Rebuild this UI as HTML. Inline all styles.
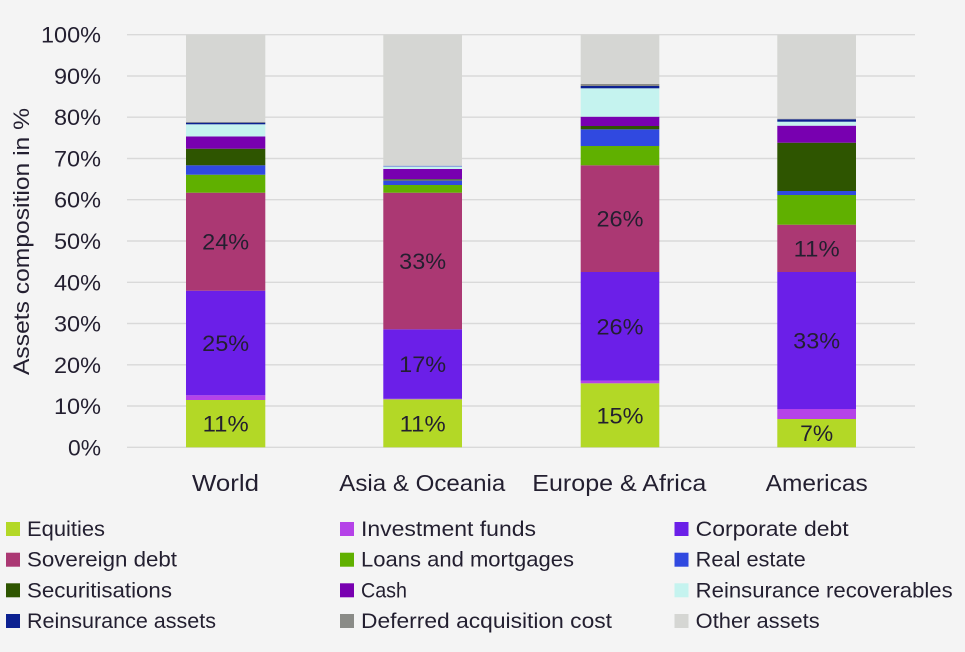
<!DOCTYPE html>
<html><head><meta charset="utf-8"><style>
html,body{margin:0;padding:0;background:#f4f4f4;}
svg{display:block;}
text{font-family:"Liberation Sans",sans-serif;fill:#231f30;}
</style></head><body>
<svg width="965" height="652" viewBox="0 0 965 652" xmlns="http://www.w3.org/2000/svg">
<rect width="965" height="652" fill="#f4f4f4"/>
<g stroke="#d9d9d9" stroke-width="1.4">
<line x1="127" x2="915" y1="34.7" y2="34.7"/>
<line x1="127" x2="915" y1="76" y2="76"/>
<line x1="127" x2="915" y1="117.2" y2="117.2"/>
<line x1="127" x2="915" y1="158.5" y2="158.5"/>
<line x1="127" x2="915" y1="199.7" y2="199.7"/>
<line x1="127" x2="915" y1="241" y2="241"/>
<line x1="127" x2="915" y1="282.3" y2="282.3"/>
<line x1="127" x2="915" y1="323.5" y2="323.5"/>
<line x1="127" x2="915" y1="364.8" y2="364.8"/>
<line x1="127" x2="915" y1="406" y2="406"/>
<line x1="127" x2="915" y1="447.3" y2="447.3"/>
</g>
<!-- World -->
<g>
<rect x="186" width="79.3" y="400" height="47.3" fill="#b3d826"/>
<rect x="186" width="79.3" y="395.3" height="4.7" fill="#b542e8"/>
<rect x="186" width="79.3" y="290.7" height="104.6" fill="#6b1fe8"/>
<rect x="186" width="79.3" y="192.7" height="98" fill="#ab3873"/>
<rect x="186" width="79.3" y="174.7" height="18" fill="#60b000"/>
<rect x="186" width="79.3" y="165.3" height="9.4" fill="#3049e0"/>
<rect x="186" width="79.3" y="148.7" height="16.6" fill="#2e5500"/>
<rect x="186" width="79.3" y="136.5" height="12.2" fill="#7800b0"/>
<rect x="186" width="79.3" y="124.3" height="12.2" fill="#c5f3ef"/>
<rect x="186" width="79.3" y="122.7" height="1.6" fill="#0c2191"/>
<rect x="186" width="79.3" y="122" height="0.7" fill="#8a8b87"/>
<rect x="186" width="79.3" y="34.7" height="87.3" fill="#d5d6d3"/>
</g>
<!-- Asia -->
<g>
<rect x="383.3" width="78.7" y="399.3" height="48" fill="#b3d826"/>
<rect x="383.3" width="78.7" y="398.8" height="0.5" fill="#b542e8"/>
<rect x="383.3" width="78.7" y="329.3" height="69.5" fill="#6b1fe8"/>
<rect x="383.3" width="78.7" y="192.7" height="136.6" fill="#ab3873"/>
<rect x="383.3" width="78.7" y="185" height="7.7" fill="#60b000"/>
<rect x="383.3" width="78.7" y="180.7" height="4.3" fill="#3049e0"/>
<rect x="383.3" width="78.7" y="179" height="1.7" fill="#5d6858"/>
<rect x="383.3" width="78.7" y="169" height="10" fill="#7800b0"/>
<rect x="383.3" width="78.7" y="166.7" height="2.3" fill="#c5f3ef"/>
<rect x="383.3" width="78.7" y="165.7" height="1" fill="#6f86d8"/>
<rect x="383.3" width="78.7" y="34.7" height="131" fill="#d5d6d3"/>
</g>
<!-- Europe -->
<g>
<rect x="580.7" width="78.6" y="383.3" height="64" fill="#b3d826"/>
<rect x="580.7" width="78.6" y="380.7" height="2.6" fill="#b542e8"/>
<rect x="580.7" width="78.6" y="272" height="108.7" fill="#6b1fe8"/>
<rect x="580.7" width="78.6" y="165.3" height="106.7" fill="#ab3873"/>
<rect x="580.7" width="78.6" y="146" height="19.3" fill="#60b000"/>
<rect x="580.7" width="78.6" y="129.3" height="16.7" fill="#3049e0"/>
<rect x="580.7" width="78.6" y="126" height="3.3" fill="#2e5500"/>
<rect x="580.7" width="78.6" y="116.7" height="9.3" fill="#7800b0"/>
<rect x="580.7" width="78.6" y="88.3" height="28.4" fill="#c5f3ef"/>
<rect x="580.7" width="78.6" y="86" height="2.3" fill="#0c2191"/>
<rect x="580.7" width="78.6" y="84" height="2" fill="#8a8b87"/>
<rect x="580.7" width="78.6" y="34.7" height="49.3" fill="#d5d6d3"/>
</g>
<!-- Americas -->
<g>
<rect x="777.3" width="78.7" y="419" height="28.3" fill="#b3d826"/>
<rect x="777.3" width="78.7" y="409" height="10" fill="#b542e8"/>
<rect x="777.3" width="78.7" y="272" height="137" fill="#6b1fe8"/>
<rect x="777.3" width="78.7" y="224.7" height="47.3" fill="#ab3873"/>
<rect x="777.3" width="78.7" y="195" height="29.7" fill="#60b000"/>
<rect x="777.3" width="78.7" y="191" height="4" fill="#3049e0"/>
<rect x="777.3" width="78.7" y="142.7" height="48.3" fill="#2e5500"/>
<rect x="777.3" width="78.7" y="125.7" height="17" fill="#7800b0"/>
<rect x="777.3" width="78.7" y="121.7" height="4" fill="#c5f3ef"/>
<rect x="777.3" width="78.7" y="119.3" height="2.4" fill="#0c2191"/>
<rect x="777.3" width="78.7" y="118.7" height="0.6" fill="#8a8b87"/>
<rect x="777.3" width="78.7" y="34.7" height="84" fill="#d5d6d3"/>
</g>
<!-- bar labels -->
<g font-size="22.5" text-anchor="middle" lengthAdjust="spacingAndGlyphs">
<text x="225.7" y="431.7" textLength="46" lengthAdjust="spacingAndGlyphs">11%</text>
<text x="225.7" y="351" textLength="47" lengthAdjust="spacingAndGlyphs">25%</text>
<text x="225.7" y="249.7" textLength="47" lengthAdjust="spacingAndGlyphs">24%</text>
<text x="422.7" y="431.3" textLength="46" lengthAdjust="spacingAndGlyphs">11%</text>
<text x="422.7" y="372" textLength="47" lengthAdjust="spacingAndGlyphs">17%</text>
<text x="422.7" y="269" textLength="47" lengthAdjust="spacingAndGlyphs">33%</text>
<text x="620" y="423.3" textLength="47" lengthAdjust="spacingAndGlyphs">15%</text>
<text x="620" y="334.3" textLength="47" lengthAdjust="spacingAndGlyphs">26%</text>
<text x="620" y="226.7" textLength="47" lengthAdjust="spacingAndGlyphs">26%</text>
<text x="816.7" y="441" textLength="33" lengthAdjust="spacingAndGlyphs">7%</text>
<text x="816.7" y="348.5" textLength="47" lengthAdjust="spacingAndGlyphs">33%</text>
<text x="816.7" y="256.3" textLength="46" lengthAdjust="spacingAndGlyphs">11%</text>
</g>
<!-- y ticks -->
<g font-size="22.5">
<text x="41" y="42.7" textLength="60" lengthAdjust="spacingAndGlyphs">100%</text>
<text x="54" y="84" textLength="47" lengthAdjust="spacingAndGlyphs">90%</text>
<text x="54" y="125.2" textLength="47" lengthAdjust="spacingAndGlyphs">80%</text>
<text x="54" y="166.5" textLength="47" lengthAdjust="spacingAndGlyphs">70%</text>
<text x="54" y="207.7" textLength="47" lengthAdjust="spacingAndGlyphs">60%</text>
<text x="54" y="249" textLength="47" lengthAdjust="spacingAndGlyphs">50%</text>
<text x="54" y="290.3" textLength="47" lengthAdjust="spacingAndGlyphs">40%</text>
<text x="54" y="331.5" textLength="47" lengthAdjust="spacingAndGlyphs">30%</text>
<text x="54" y="372.8" textLength="47" lengthAdjust="spacingAndGlyphs">20%</text>
<text x="54" y="414" textLength="47" lengthAdjust="spacingAndGlyphs">10%</text>
<text x="68" y="455.3" textLength="33" lengthAdjust="spacingAndGlyphs">0%</text>
</g>
<text font-size="22.5" transform="translate(29,375) rotate(-90)" textLength="267" lengthAdjust="spacingAndGlyphs">Assets composition in %</text>
<!-- categories -->
<g font-size="23">
<text x="192" y="491" textLength="67" lengthAdjust="spacingAndGlyphs">World</text>
<text x="339.3" y="491" textLength="166" lengthAdjust="spacingAndGlyphs">Asia &amp; Oceania</text>
<text x="532.3" y="491" textLength="174" lengthAdjust="spacingAndGlyphs">Europe &amp; Africa</text>
<text x="765.7" y="491" textLength="102" lengthAdjust="spacingAndGlyphs">Americas</text>
</g>
<!-- legend -->
<g>
<rect x="6" y="522" width="14" height="14" fill="#b3d826"/>
<rect x="6" y="552.7" width="14" height="14" fill="#ab3873"/>
<rect x="6" y="583.3" width="14" height="14" fill="#2e5500"/>
<rect x="6" y="614" width="14" height="14" fill="#0c2191"/>
<rect x="340" y="522" width="14" height="14" fill="#b542e8"/>
<rect x="340" y="552.7" width="14" height="14" fill="#60b000"/>
<rect x="340" y="583.3" width="14" height="14" fill="#7800b0"/>
<rect x="340" y="614" width="14" height="14" fill="#8a8b87"/>
<rect x="674.5" y="522" width="14" height="14" fill="#6b1fe8"/>
<rect x="674.5" y="552.7" width="14" height="14" fill="#3049e0"/>
<rect x="674.5" y="583.3" width="14" height="14" fill="#c5f3ef"/>
<rect x="674.5" y="614" width="14" height="14" fill="#d5d6d3"/>
</g>
<g font-size="21.5">
<text x="27" y="536" textLength="78" lengthAdjust="spacingAndGlyphs">Equities</text>
<text x="27" y="566.7" textLength="150" lengthAdjust="spacingAndGlyphs">Sovereign debt</text>
<text x="27" y="597.3" textLength="145" lengthAdjust="spacingAndGlyphs">Securitisations</text>
<text x="27" y="628" textLength="189" lengthAdjust="spacingAndGlyphs">Reinsurance assets</text>
<text x="361" y="536" textLength="175" lengthAdjust="spacingAndGlyphs">Investment funds</text>
<text x="361" y="566.7" textLength="213" lengthAdjust="spacingAndGlyphs">Loans and mortgages</text>
<text x="361" y="597.3" textLength="46" lengthAdjust="spacingAndGlyphs">Cash</text>
<text x="361" y="628" textLength="251" lengthAdjust="spacingAndGlyphs">Deferred acquisition cost</text>
<text x="695.7" y="536" textLength="153" lengthAdjust="spacingAndGlyphs">Corporate debt</text>
<text x="695.7" y="566.7" textLength="110" lengthAdjust="spacingAndGlyphs">Real estate</text>
<text x="695.7" y="597.3" textLength="257" lengthAdjust="spacingAndGlyphs">Reinsurance recoverables</text>
<text x="695.7" y="628" textLength="124" lengthAdjust="spacingAndGlyphs">Other assets</text>
</g>
</svg>
</body></html>
